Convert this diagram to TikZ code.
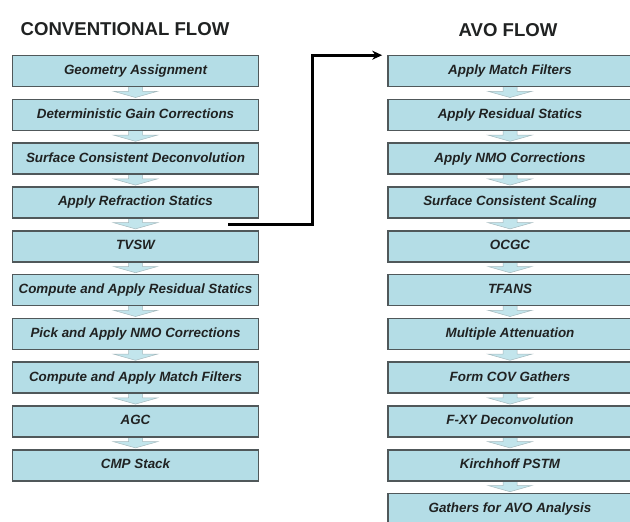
\documentclass[tikz,border=0pt]{standalone}
\usepackage{fontspec}
\setmainfont{Liberation Sans}
\usetikzlibrary{calc,arrows.meta,backgrounds}
\definecolor{boxfill}{HTML}{B4DDE6}
\definecolor{boxline}{HTML}{50585A}
\definecolor{stepfill}{HTML}{C2E5EC}
\definecolor{stepline}{HTML}{A6BABE}
\definecolor{inktext}{HTML}{202222}
\tikzset{
  flowbox/.style={draw=boxline, line width=1.6pt, fill=boxfill, minimum height=31pt,
    inner sep=0pt, text height=9.6pt, text depth=2.6pt,
    font=\fontsize{13.4}{15}\selectfont\bfseries\itshape, text=inktext},
  leftbox/.style={flowbox, minimum width=246pt},
  rightbox/.style={flowbox, minimum width=244pt},
  heading/.style={inner sep=0pt, font=\fontsize{18.6}{21}\selectfont\bfseries, text=inktext},
  stepdown/.style={fill=stepfill, draw=stepline, line width=0.5pt},
  jump/.style={draw=black, line width=2.6pt, -{Stealth[length=10pt,width=9pt]}}
}
\begin{document}
\begin{tikzpicture}[x=1pt, y=-1pt]
  \useasboundingbox (0,0) rectangle (630,522);
  \clip (0,0) rectangle (630,522);

  % column headings
  \node[heading] (hconv) at (125,29) {CONVENTIONAL FLOW};
  \node[heading] (havo) at (508,30) {AVO FLOW};

  % conventional processing sequence
  \foreach \txt [count=\i] in {
      Geometry Assignment,
      Deterministic Gain Corrections,
      Surface Consistent Deconvolution,
      Apply Refraction Statics,
      TVSW,
      Compute and Apply Residual Statics,
      Pick and Apply NMO Corrections,
      Compute and Apply Match Filters,
      AGC,
      CMP Stack}
    \node[leftbox] (l\i) at (135.5, {71+43.8*(\i-1)}) {\txt};

  % AVO processing sequence
  \foreach \txt [count=\i] in {
      Apply Match Filters,
      Apply Residual Statics,
      Apply NMO Corrections,
      Surface Consistent Scaling,
      OCGC,
      TFANS,
      Multiple Attenuation,
      Form COV Gathers,
      F-XY Deconvolution,
      Kirchhoff PSTM,
      Gathers for AVO Analysis}
    \node[rightbox] (r\i) at (510, {71+43.8*(\i-1)}) {\txt};

  % small block arrows linking consecutive steps
  \begin{scope}[on background layer]
    \foreach \a/\b in {1/2,2/3,3/4,4/5,5/6,6/7,7/8,8/9,9/10} {
      \path[stepdown] ($(l\a.south)+(-7,-3)$) -- ($(l\a.south)+(-7,4)$)
        -- ($(l\a.south)+(-22,4)$) -- ($(l\b.north)+(0,-1)$)
        -- ($(l\a.south)+(22,4)$) -- ($(l\a.south)+(7,4)$)
        -- ($(l\a.south)+(7,-3)$) -- cycle;
    }
    \foreach \a/\b in {1/2,2/3,3/4,4/5,5/6,6/7,7/8,8/9,9/10,10/11} {
      \path[stepdown] ($(r\a.south)+(-7,-3)$) -- ($(r\a.south)+(-7,4)$)
        -- ($(r\a.south)+(-22,4)$) -- ($(r\b.north)+(0,-1)$)
        -- ($(r\a.south)+(22,4)$) -- ($(r\a.south)+(7,4)$)
        -- ($(r\a.south)+(7,-3)$) -- cycle;
    }
  \end{scope}

  % branch from the conventional flow into the AVO flow
  \coordinate (branch) at ($(l4.south east)+(-31,6)$);
  \draw[jump] (branch) -| ($(r1.north west)+(-75,0.5)$) -- ($(r1.north west)+(-5,0.5)$);
\end{tikzpicture}
\end{document}
